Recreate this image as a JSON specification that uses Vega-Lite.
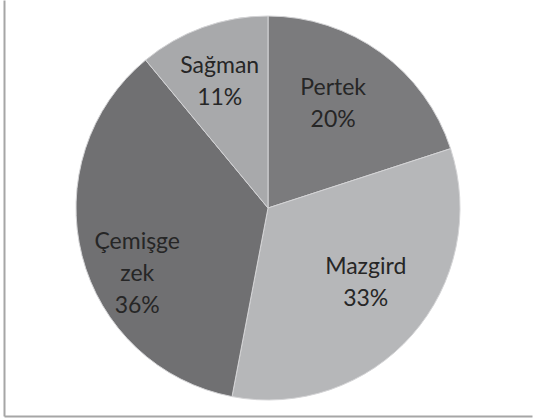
{
  "$schema": "https://vega.github.io/schema/vega-lite/v6.json",
  "width": 541,
  "height": 419,
  "autosize": {"type": "fit", "contains": "padding"},
  "padding": {"left": 4, "right": 9, "top": 0, "bottom": 3},
  "background": "white",
  "view": {"stroke": null},
  "data": {
    "values": [
      {"name": "Pertek", "value": 20, "order": 1, "label": "Pertek\n20%"},
      {"name": "Mazgird", "value": 33, "order": 2, "label": "Mazgird\n33%"},
      {"name": "Çemişgezek", "value": 36, "order": 3, "label": "Çemişge\nzek\n36%"},
      {"name": "Sağman", "value": 11, "order": 4, "label": "Sağman\n11%"}
    ]
  },
  "layer": [
    {
      "mark": {"type": "point", "opacity": 0},
      "encoding": {
        "x": {"field": "value", "type": "quantitative", "axis": {"labels": false, "ticks": false, "grid": false, "title": null, "domainColor": "#a6a6a6", "domainWidth": 2}},
        "y": {"field": "value", "type": "quantitative", "axis": {"labels": false, "ticks": false, "grid": false, "title": null, "domainColor": "#a6a6a6", "domainWidth": 2}}
      }
    },
    {
      "mark": {"type": "arc", "outerRadius": 192, "stroke": "#d4d4d6", "strokeWidth": 1},
      "encoding": {
        "theta": {"field": "value", "type": "quantitative", "stack": true},
        "order": {"field": "order", "type": "quantitative"},
        "color": {
          "field": "name", "type": "nominal", "legend": null,
          "scale": {"domain": ["Pertek", "Mazgird", "Çemişgezek", "Sağman"], "range": ["#7b7b7d", "#b6b7b9", "#707072", "#a8a9ab"]}
        }
      }
    },
    {
      "mark": {"type": "text", "radius": 123, "thetaOffset": -0.07, "dy": -16, "font": "Lato", "fontSize": 23, "lineHeight": 32, "lineBreak": "\n", "color": "#262626", "align": "center", "baseline": "middle"},
      "encoding": {
        "theta": {"field": "value", "type": "quantitative", "stack": true},
        "order": {"field": "order", "type": "quantitative"},
        "text": {"field": "label", "type": "nominal"},
        "opacity": {"condition": {"test": "datum.name === 'Pertek' || datum.name === 'Mazgird'", "value": 1}, "value": 0}
      }
    },
    {
      "mark": {"type": "text", "radius": 135, "thetaOffset": -0.02, "dy": -16, "font": "Lato", "fontSize": 23, "lineHeight": 32, "lineBreak": "\n", "color": "#262626", "align": "center", "baseline": "middle"},
      "encoding": {
        "theta": {"field": "value", "type": "quantitative", "stack": true},
        "order": {"field": "order", "type": "quantitative"},
        "text": {"field": "label", "type": "nominal"},
        "opacity": {"condition": {"test": "datum.name === 'Sağman'", "value": 1}, "value": 0}
      }
    },
    {
      "mark": {"type": "text", "radius": 135, "font": "Lato", "fontSize": 23, "lineHeight": 32, "lineBreak": "\n", "color": "#262626", "align": "center", "baseline": "middle"},
      "encoding": {
        "theta": {"field": "value", "type": "quantitative", "stack": true},
        "order": {"field": "order", "type": "quantitative"},
        "text": {"field": "label", "type": "nominal"},
        "opacity": {"condition": {"test": "datum.name === 'Çemişgezek'", "value": 1}, "value": 0}
      }
    }
  ]
}
